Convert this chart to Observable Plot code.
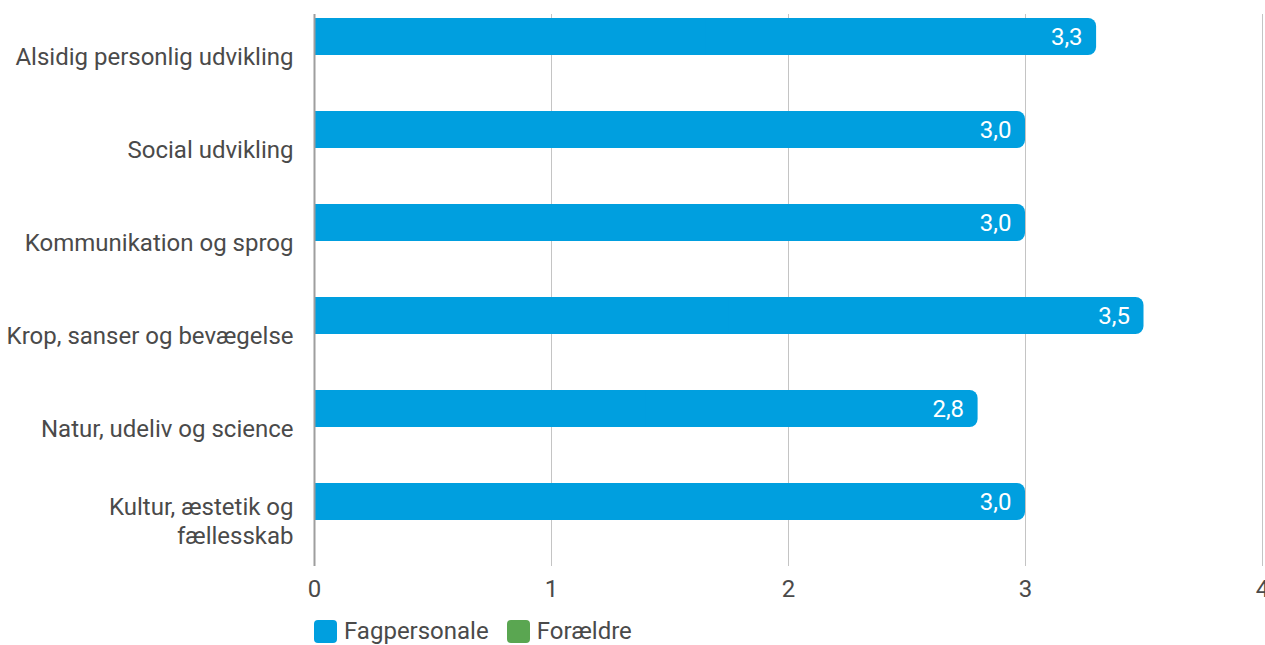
<!DOCTYPE html>
<html><head><meta charset="utf-8">
<script src="https://cdn.jsdelivr.net/npm/d3@7"></script>
<script src="https://cdn.jsdelivr.net/npm/@observablehq/plot@0.6"></script>
<style>
body{margin:0;background:#fff;font-family:Roboto,sans-serif;overflow:hidden}
#legend{display:flex;align-items:center;margin-left:314px;margin-top:6px;font-size:24px;color:#4a4a4a;line-height:26px}
.sw{display:flex;align-items:center;margin-right:18px}
.sw span.box{width:23px;height:23px;border-radius:4px;display:inline-block;margin-right:7px}
</style>
</head><body><div id="chart"></div><div id="legend"></div>
<script>
const categories = ["Alsidig personlig udvikling","Social udvikling","Kommunikation og sprog","Krop, sanser og bevægelse","Natur, udeliv og science","Kultur, æstetik og\nfællesskab"];
const fagpersonale = [3.3, 3.0, 3.0, 3.5, 2.8, 3.0];
const foraeldre = [null, null, null, null, null, null];
const series = ["Fagpersonale", "Forældre"];
const seriesColors = ["#009fdf", "#5aa651"];
const xTicks = [0, 1, 2, 3, 4];

const rows = [];
categories.forEach((c, i) => {
  rows.push({category: c, series: series[0], value: fagpersonale[i]});
  rows.push({category: c, series: series[1], value: foraeldre[i]});
});
const fag = rows.filter(d => d.series === series[0] && d.value != null);
const forr = rows.filter(d => d.series === series[1] && d.value != null);
const fmt = v => v.toFixed(1).replace(".", ",");

const chart = Plot.plot({
  width: 1265, height: 612,
  marginTop: 14, marginBottom: 46, marginLeft: 314, marginRight: 3,
  style: {fontFamily: "Roboto, sans-serif", overflow: "visible"},
  x: {domain: [0, 4], label: null},
  y: {domain: categories, paddingInner: 0.209, paddingOuter: 0.053, align: 0.3, label: null},
  marks: [
    Plot.gridX(xTicks, {stroke: "#c4c4c4", strokeOpacity: 1, strokeWidth: 1}),
    Plot.axisX(xTicks, {tickSize: 0, tickPadding: 13, fontSize: 24, fill: "#4a4a4a", label: null, tickFormat: d3.format("d")}),
    Plot.axisY({tickSize: 0, tickPadding: 21, fontSize: 24, fill: "#4a4a4a", label: null, lineHeight: 1.2}),
    Plot.barX(fag, {x: "value", y: "category", fill: seriesColors[0], insetBottom: 37, rx: 8}),
    Plot.barX(fag, {x1: 0, x2: d => d.value / 2, y: "category", fill: seriesColors[0], insetBottom: 37}),
    Plot.barX(forr, {x: "value", y: "category", fill: seriesColors[1], insetTop: 37, rx: 8}),
    Plot.ruleX([0], {stroke: "#9e9e9e", strokeWidth: 2}),
    Plot.text(fag, {x: "value", y: "category", text: d => fmt(d.value), textAnchor: "end", dx: -14, dy: -18.5, fill: "white", fontSize: 24}),
    Plot.text(forr, {x: "value", y: "category", text: d => fmt(d.value), textAnchor: "end", dx: -14, dy: 18.5, fill: "white", fontSize: 24})
  ]
});
document.getElementById("chart").appendChild(chart);

const legend = document.getElementById("legend");
series.forEach((s, i) => {
  const el = document.createElement("div");
  el.className = "sw";
  el.innerHTML = `<span class="box" style="background:${seriesColors[i]}"></span><span>${s}</span>`;
  legend.appendChild(el);
});
</script>
</body></html>
